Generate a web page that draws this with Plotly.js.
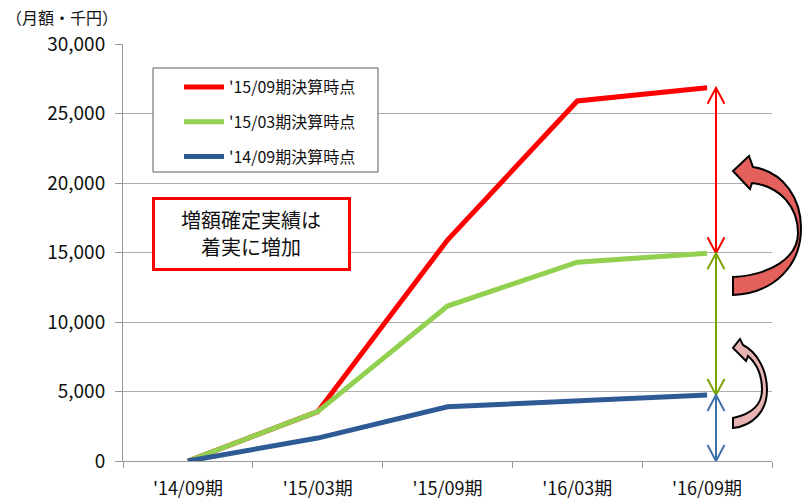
<!DOCTYPE html>
<html><head><meta charset="utf-8">
<script src="https://cdn.plot.ly/plotly-3.0.1.min.js"></script>
<style>html,body{margin:0;padding:0;background:#fff}#chart{width:808px;height:499px}</style>
</head><body><div id="chart"></div>
<script>
// ---- data ----
const categories = ["'14/09期", "'15/03期", "'15/09期", "'16/03期", "'16/09期"];
const series1509 = [0, 3550, 15900, 25900, 26850];
const series1503 = [0, 3550, 11150, 14300, 14950];
const series1409 = [0, 1650, 3900, 4300, 4750];
const seriesNames = ["'15/09期決算時点", "'15/03期決算時点", "'14/09期決算時点"];
const unitLabel = "（月額・千円）";
const calloutLines = ["増額確定実績は", "着実に増加"];
const yTickVals = [0, 5000, 10000, 15000, 20000, 25000, 30000];

// ---- layout geometry ----
const W = 808, H = 499;
const M = {l: 123, r: 36, t: 44, b: 38};
const PW = W - M.l - M.r, PH = H - M.t - M.b;
const YMAX = 30000;
const px = x => (x - M.l) / PW;
const py = y => (H - M.b - y) / PH;
const vUnits = p => p / PH * YMAX; // pixel height -> data units

const FONT = "'Noto Sans CJK JP', 'Noto Sans', sans-serif";
const colors = ['#FF0000', '#92D050', '#2E5B96'];
const arrowColors = ['#FF0000', '#7BA400', '#3F72AB'];

const data = [series1509, series1503, series1409].map((s, i) => ({
  type: 'scatter', mode: 'lines', x: categories, y: s, name: seriesNames[i],
  legendgroup: 'g' + i,
  line: {color: colors[i], width: 5}, hoverinfo: 'skip'
}));

// pixel path -> paper path
function pPath(cmds) {
  return cmds.map(c => {
    if (typeof c === 'string') return c;
    return px(c[0]).toFixed(5) + ',' + py(c[1]).toFixed(5);
  }).join(' ');
}

const shapes = [];
// legend box
shapes.push({type: 'rect', xref: 'paper', yref: 'paper', x0: px(153), x1: px(378), y0: py(68), y1: py(172),
  fillcolor: '#fff', line: {color: '#5a5a5a', width: 1}, layer: 'above'});
// callout box
shapes.push({type: 'rect', xref: 'paper', yref: 'paper', x0: px(153.5), x1: px(349.5), y0: py(198.5), y1: py(269.5),
  fillcolor: '#fff', line: {color: '#FF0000', width: 3}, layer: 'above'});

// double-headed arrows at last category
const last = categories.length - 1;
const ends = [series1509[last], series1503[last], series1409[last], 0];
const ax = px(716);
const hw = 8.5 / PW, hh = vUnits(16);
for (let i = 0; i < 3; i++) {
  const top = ends[i], bot = ends[i + 1];
  const path = `M ${ax},${top} L ${ax},${bot} ` +
    `M ${ax - hw},${top - hh} L ${ax},${top} L ${ax + hw},${top - hh} ` +
    `M ${ax - hw},${bot + hh} L ${ax},${bot} L ${ax + hw},${bot + hh}`;
  shapes.push({type: 'path', xref: 'paper', yref: 'y', path: path,
    line: {color: arrowColors[i], width: 2}, layer: 'above'});
}

// curved arrows
const bigArrow = pPath(['M', [733, 277], 'C', [770, 275], [798, 258], [798, 233],
  'C', [798, 207], [780, 186], [752, 183], 'L', [750, 189], 'L', [733, 171], 'L', [749, 156],
  'L', [753, 167], 'C', [785, 172], [801, 200], [801, 228], 'C', [801, 265], [775, 293], [733, 295], 'Z']);
shapes.push({type: 'path', xref: 'paper', yref: 'paper', path: bigArrow,
  fillcolor: '#E4605C', line: {color: '#000', width: 2}, layer: 'above'});
const smallArrow = pPath(['M', [733, 418], 'C', [752, 414], [762, 404], [762, 390],
  'C', [762, 375], [756, 363], [748, 356], 'L', [746, 361], 'L', [733, 348], 'L', [740, 339],
  'L', [743, 345], 'C', [757, 352], [767, 370], [767, 390], 'C', [767, 412], [752, 426], [733, 428], 'Z']);
shapes.push({type: 'path', xref: 'paper', yref: 'paper', path: smallArrow,
  fillcolor: '#E6B4B2', line: {color: '#000', width: 2}, layer: 'above'});

const annotations = [
  {xref: 'paper', yref: 'paper', x: px(4), y: py(17), xanchor: 'left', yanchor: 'middle',
    text: unitLabel, showarrow: false, font: {family: FONT, size: 16, color: '#111'}}
];
calloutLines.forEach((t, i) => annotations.push({
  xref: 'paper', yref: 'paper', x: px(251), y: py(219 + i * 27), xanchor: 'center', yanchor: 'middle',
  text: t, showarrow: false, font: {family: FONT, size: 20, color: '#111'}
}));

const layout = {
  width: W, height: H, margin: M,
  paper_bgcolor: '#fff', plot_bgcolor: '#fff',
  font: {family: FONT, size: 14, color: '#111'},
  showlegend: true,
  legend: {x: px(179), y: py(70), xanchor: 'left', yanchor: 'top', bgcolor: 'rgba(0,0,0,0)',
    borderwidth: 0, font: {family: FONT, size: 16, color: '#111'}, itemwidth: 40,
    traceorder: 'grouped', tracegroupgap: 11},
  xaxis: {type: 'category', tickson: 'boundaries', range: [-0.5, categories.length - 0.5],
    ticks: 'outside', ticklen: 6, tickcolor: '#999',
    showline: true, linecolor: '#999', linewidth: 1, showgrid: false, zeroline: false,
    tickfont: {family: FONT, size: 18, color: '#111'}, ticklabelstandoff: 11, fixedrange: true},
  yaxis: {range: [0, YMAX], tickvals: yTickVals, tickformat: ',d', ticks: 'outside', ticklen: 7,
    tickcolor: '#999', showline: true, linecolor: '#999', linewidth: 1, showgrid: true,
    gridcolor: '#ADADAD', gridwidth: 1, zeroline: false,
    tickfont: {family: FONT, size: 19, color: '#111'}, ticklabelstandoff: 6, fixedrange: true},
  shapes: shapes,
  annotations: annotations
};

Plotly.newPlot('chart', data, layout, {displayModeBar: false, staticPlot: true});
</script></body></html>
